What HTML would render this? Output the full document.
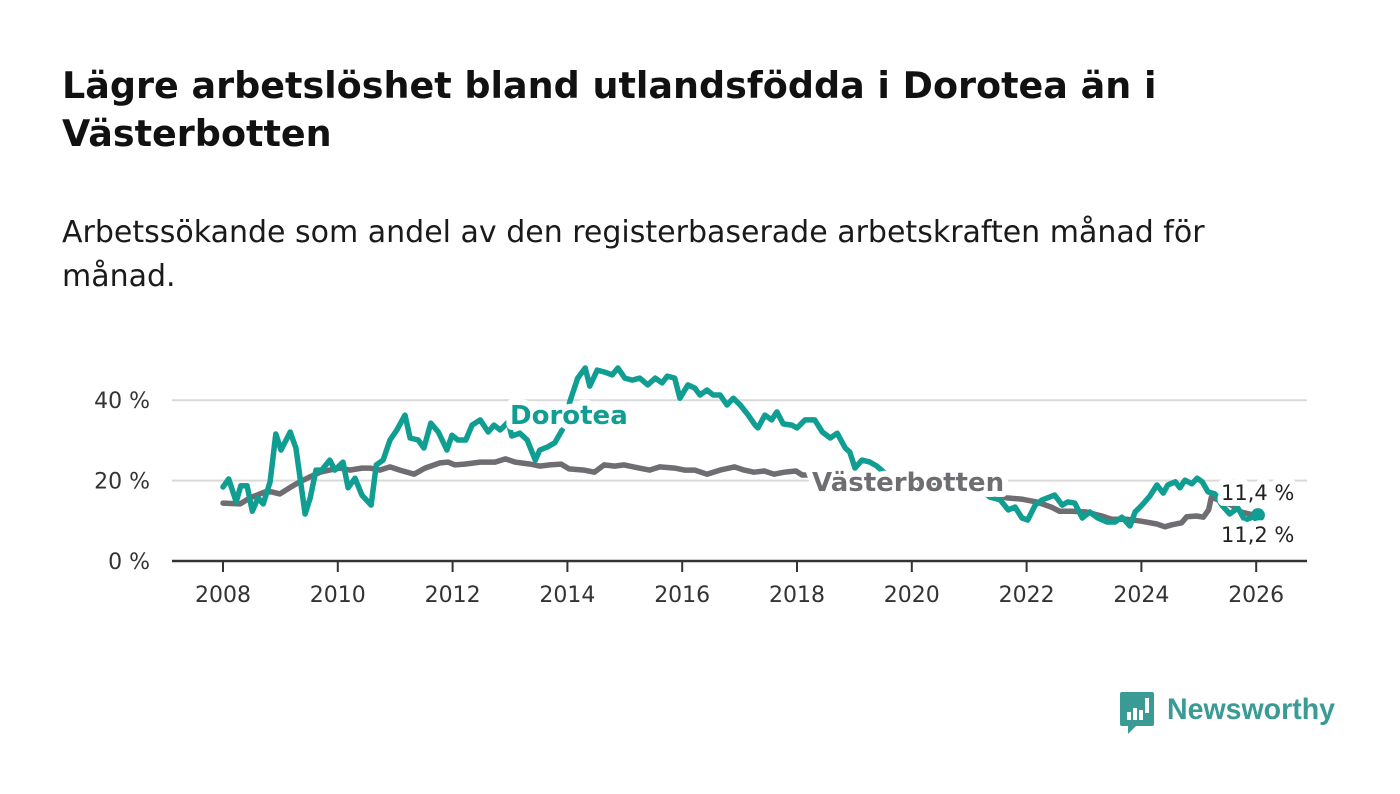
<!DOCTYPE html>
<html><head><meta charset="utf-8">
<style>
body{margin:0;background:#fff;width:1400px;height:794px;overflow:hidden;font-family:"DejaVu Sans","Liberation Sans",sans-serif;}
#title{position:absolute;left:62px;top:62px;width:1300px;font-family:"DejaVu Sans","Liberation Sans",sans-serif;font-weight:bold;font-size:36.5px;line-height:48px;color:#111;margin:0;white-space:nowrap}
#sub{position:absolute;left:62px;top:211px;width:1300px;font-family:"DejaVu Sans","Liberation Sans",sans-serif;font-size:30px;line-height:44px;color:#1a1a1a;margin:0;white-space:nowrap}
svg{position:absolute;left:0;top:0}
</style></head><body>
<h1 id="title">Lägre arbetslöshet bland utlandsfödda i Dorotea än i<br>Västerbotten</h1>
<p id="sub">Arbetssökande som andel av den registerbaserade arbetskraften månad för<br>månad.</p>
<svg id="chart" width="1400" height="794"></svg>
<script>
const yTicks=[0,20,40];
const xTicks=[2008,2010,2012,2014,2016,2018,2020,2022,2024,2026];
const doroteaT=[2008.00,2008.10,2008.23,2008.31,2008.42,2008.51,2008.61,2008.70,2008.82,2008.92,2009.01,2009.17,2009.27,2009.43,2009.52,2009.62,2009.72,2009.86,2009.95,2010.09,2010.18,2010.30,2010.42,2010.58,2010.67,2010.79,2010.91,2011.03,2011.17,2011.26,2011.40,2011.50,2011.62,2011.75,2011.90,2011.99,2012.09,2012.23,2012.34,2012.48,2012.62,2012.72,2012.83,2012.97,2013.03,2013.17,2013.30,2013.44,2013.52,2013.66,2013.78,2013.91,2014.05,2014.18,2014.31,2014.39,2014.52,2014.65,2014.78,2014.88,2015.00,2015.13,2015.26,2015.40,2015.53,2015.65,2015.74,2015.87,2015.96,2016.10,2016.22,2016.31,2016.43,2016.54,2016.66,2016.78,2016.89,2017.01,2017.15,2017.27,2017.32,2017.44,2017.56,2017.65,2017.76,2017.91,2018.00,2018.14,2018.31,2018.44,2018.58,2018.70,2018.84,2018.92,2019.01,2019.13,2019.27,2019.39,2019.6,2019.9,2020.2,2020.5,2020.79,2021.0,2021.2,2021.36,2021.54,2021.68,2021.80,2021.92,2022.02,2022.15,2022.27,2022.49,2022.62,2022.72,2022.84,2022.97,2023.10,2023.24,2023.40,2023.54,2023.66,2023.80,2023.89,2024.01,2024.15,2024.27,2024.38,2024.46,2024.59,2024.67,2024.76,2024.88,2024.97,2025.06,2025.16,2025.28,2025.40,2025.54,2025.68,2025.80,2026.03];
const doroteaV=[18.4,20.4,14.7,18.7,18.7,12.4,15.7,14.2,19.7,31.6,27.6,32.1,28.1,11.7,15.7,22.6,22.6,25.1,22.6,24.6,18.2,20.6,16.4,13.9,23.9,25.1,30.1,32.6,36.3,30.6,30.1,28.1,34.3,32.1,27.6,31.3,30.1,30.1,33.8,35.1,32.1,33.8,32.6,34.6,31.1,31.8,30.1,25.1,27.6,28.4,29.4,32.6,40.0,45.5,48.0,43.5,47.5,47.0,46.3,48.0,45.5,45.0,45.5,43.8,45.5,44.3,46.0,45.5,40.5,43.8,43.0,41.3,42.5,41.3,41.3,38.8,40.5,38.8,36.3,33.8,33.1,36.3,35.1,37.1,34.1,33.8,33.1,35.1,35.1,32.1,30.6,31.8,28.1,27.1,23.1,25.1,24.6,23.6,21.0,20.0,19.5,20.0,21.0,19.5,18.0,15.9,15.2,12.7,13.4,10.7,10.2,13.9,15.2,16.4,13.9,14.7,14.4,10.7,12.2,10.7,9.7,9.7,10.9,8.7,12.2,13.9,16.2,18.9,16.9,18.9,19.7,18.2,20.1,19.2,20.6,19.7,17.2,16.7,13.9,11.7,13.2,10.2,11.4];
const vbT=[2008.00,2008.30,2008.47,2008.73,2008.85,2008.99,2009.16,2009.34,2009.51,2009.69,2009.86,2010.03,2010.21,2010.42,2010.56,2010.73,2010.91,2011.08,2011.33,2011.52,2011.78,2011.92,2012.04,2012.21,2012.48,2012.74,2012.92,2013.09,2013.35,2013.52,2013.69,2013.89,2014.03,2014.29,2014.47,2014.64,2014.82,2014.99,2015.25,2015.43,2015.61,2015.87,2016.04,2016.22,2016.43,2016.66,2016.91,2017.08,2017.25,2017.43,2017.60,2017.78,2017.98,2018.09,2018.21,2018.6,2019.0,2019.5,2020.0,2020.5,2021.0,2021.47,2021.65,2021.91,2022.17,2022.43,2022.57,2022.78,2023.04,2023.31,2023.48,2023.74,2024.00,2024.27,2024.41,2024.53,2024.70,2024.79,2024.96,2025.08,2025.17,2025.22,2025.34,2025.57,2025.74,2026.03];
const vbV=[14.4,14.2,15.7,17.2,17.2,16.7,18.2,19.7,20.9,22.1,22.6,23.1,22.6,23.1,23.1,22.6,23.4,22.6,21.6,23.1,24.4,24.6,23.9,24.1,24.6,24.6,25.4,24.6,24.1,23.6,23.9,24.1,22.9,22.6,22.1,23.9,23.6,23.9,23.1,22.6,23.4,23.1,22.6,22.6,21.6,22.6,23.4,22.6,22.1,22.4,21.6,22.1,22.4,21.4,21.4,21.0,20.5,20.0,19.5,18.5,17.0,16.7,15.7,15.4,14.7,13.4,12.4,12.4,12.2,11.2,10.4,10.4,9.9,9.2,8.5,9.0,9.5,11.0,11.2,10.9,12.7,15.9,15.2,13.9,12.2,11.2];
const NS='http://www.w3.org/2000/svg';
const svg=document.getElementById('chart');
const X=t=>223+(t-2008)*57.4;
const Y=v=>561-v*4.02;
function mk(tag,attrs,parent){const e=document.createElementNS(NS,tag);for(const k in attrs)e.setAttribute(k,attrs[k]);(parent||svg).appendChild(e);return e;}
yTicks.forEach(v=>{
  if(v>0){const g=mk('line',{x1:172,x2:1307,y1:Y(v),y2:Y(v),stroke:'#d9d9d9','stroke-width':2});
  
  }
  const t=mk('text',{x:150,y:Y(v)+8,'text-anchor':'end','font-size':22,fill:'#333'});
  t.textContent=v+' %';
  
  
});
xTicks.forEach(yr=>{
  const l=mk('line',{x1:X(yr),x2:X(yr),y1:561,y2:572,stroke:'#333','stroke-width':2});
  
  
  const t=mk('text',{x:X(yr),y:602,'text-anchor':'middle','font-size':22,fill:'#333'});
  t.textContent=yr;
  
  
});
const ax=mk('line',{x1:172,x2:1307,y1:561,y2:561,stroke:'#333','stroke-width':2.5});


function path(T,V,color,name){
  const d=T.map((t,i)=>(i?'L':'M')+X(t).toFixed(1)+','+Y(V[i]).toFixed(1)).join('');
  const p=mk('path',{d:d,fill:'none',stroke:color,'stroke-width':5.5,'stroke-linejoin':'round','stroke-linecap':'round'});
  
  
}
path(vbT,vbV,'#6f6d72','vasterbotten-line');
path(doroteaT,doroteaV,'#0f9e91','dorotea-line');
const dEnd=mk('circle',{cx:X(doroteaT[doroteaT.length-1]),cy:Y(doroteaV[doroteaV.length-1]),r:7,fill:'#0f9e91'});


function lbl(x,y,txt,color,size,weight,name,anchor){
  const t=mk('text',{x:x,y:y,'font-size':size,'font-weight':weight,fill:color,stroke:'#fff','stroke-width':12,'paint-order':'stroke','stroke-linejoin':'round','text-anchor':anchor||'start'});
  t.textContent=txt;
  
  
}
lbl(510,424,'Dorotea','#0f9e91',26,'bold','dorotea-label');
lbl(812,491,'Västerbotten','#6f6d72',26,'bold','vasterbotten-label');
lbl(1221,500,'11,4 %','#222',21,'normal','dorotea-end-label');
lbl(1221,542,'11,2 %','#222',21,'normal','vasterbotten-end-label');
const lg=mk('g',{});


mk('path',{d:'M1122,692h30a2,2 0 0 1 2,2v30a2,2 0 0 1 -2,2h-16l-8,8v-8h-6a2,2 0 0 1 -2,-2v-30a2,2 0 0 1 2,-2z',fill:'#3a9a94'},lg);
[[1127,712,4,8],[1133,708,4,12],[1139,710,4,10],[1145,698,4,15]].forEach(r=>mk('rect',{x:r[0],y:r[1],width:r[2],height:r[3],fill:'#fff'},lg));
const lt=mk('text',{x:1167,y:719,'font-size':30,'font-weight':'bold','font-family':'Liberation Sans, sans-serif',fill:'#3a9a94',textLength:168,lengthAdjust:'spacingAndGlyphs'},lg);
lt.textContent='Newsworthy';
</script>
</body></html>
